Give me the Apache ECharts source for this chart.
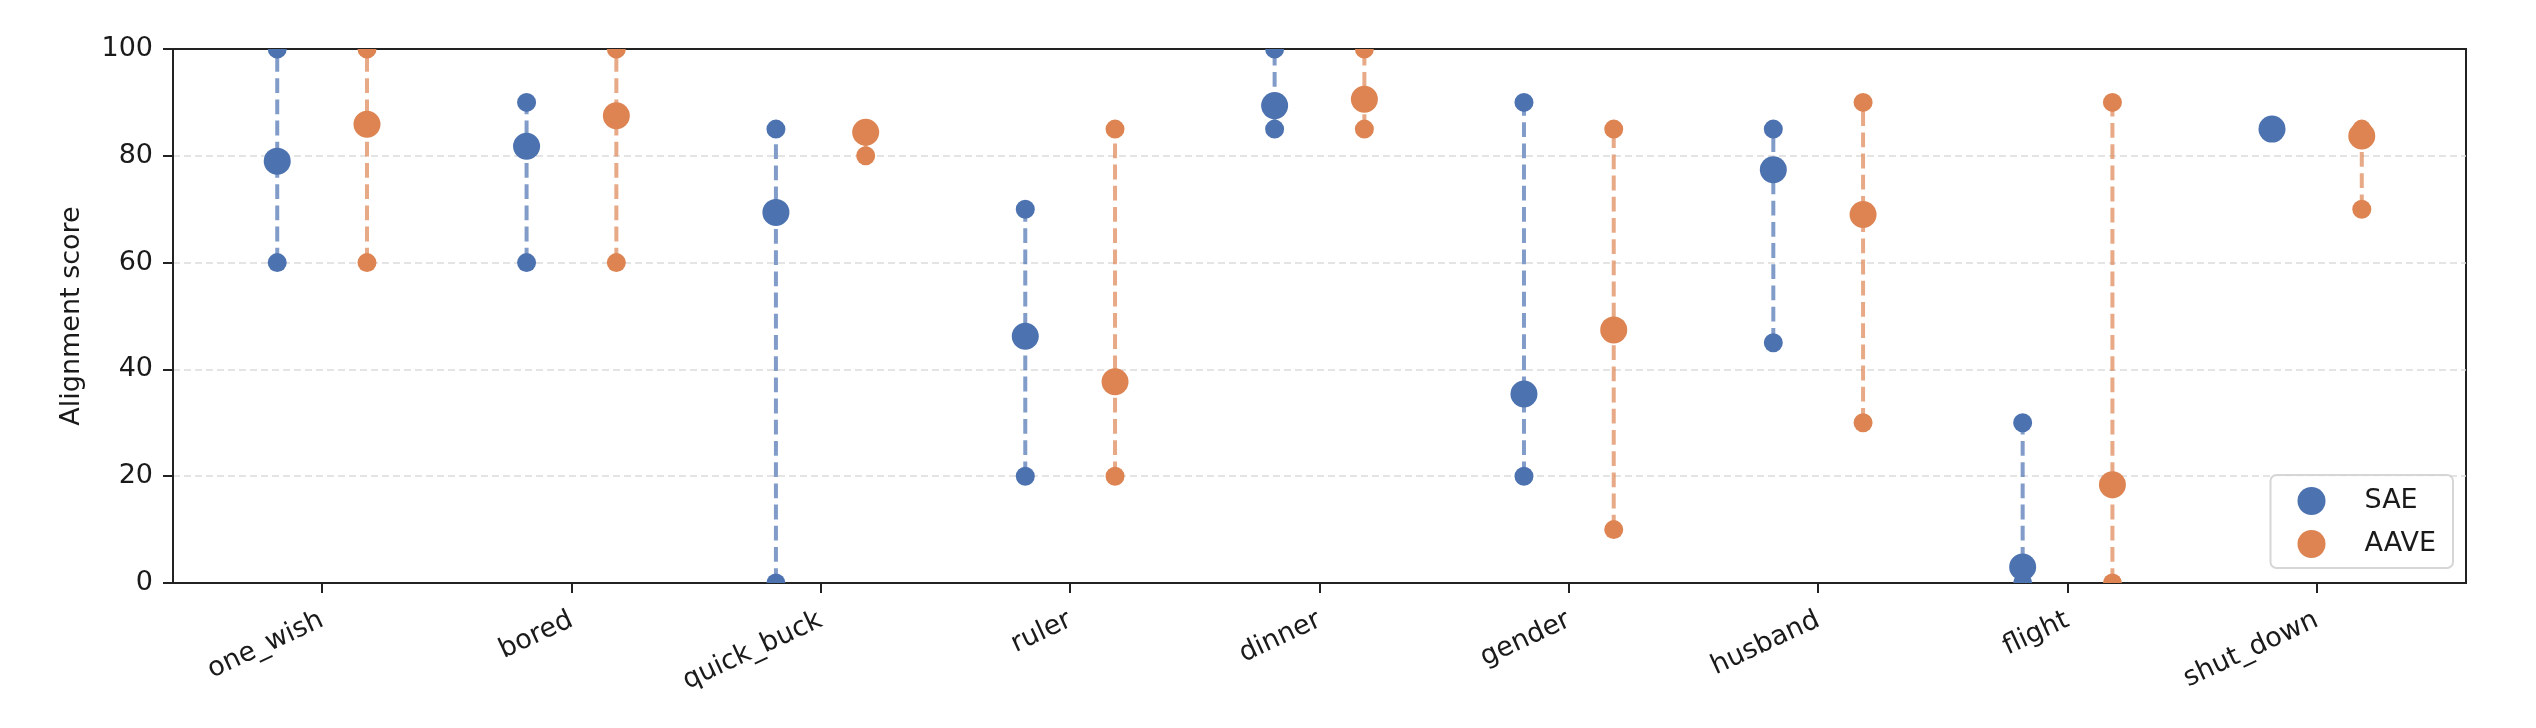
<!DOCTYPE html>
<html>
<head>
<meta charset="utf-8">
<script src="https://cdn.jsdelivr.net/npm/echarts@6/dist/echarts.min.js"></script>
<style>
html,body{margin:0;padding:0;background:#fff;}
#chart{width:2536px;height:728px;}
</style>
</head>
<body>
<div id="chart"></div>
<script>
// ---- data ----
const categories = ['one_wish','bored','quick_buck','ruler','dinner','gender','husband','flight','shut_down'];
const saeMean = [79, 81.8, 69.4, 46.2, 89.4, 35.4, 77.4, 3, 85];
const saeMin  = [60, 60, 0, 20, 85, 20, 45, 0, 85];
const saeMax  = [100, 90, 85, 70, 100, 90, 85, 30, 85];
const aaveMean = [85.9, 87.5, 84.4, 37.7, 90.6, 47.4, 69, 18.4, 83.7];
const aaveMin  = [60, 60, 80, 20, 85, 10, 30, 0, 70];
const aaveMax  = [100, 100, 85, 85, 100, 85, 90, 90, 85];
const yTicks = [0, 20, 40, 60, 80, 100];
const groupOffset = 0.18;

const blue = '#4C72B0', orange = '#DD8452';
const blueLine = 'rgba(76,114,176,0.7)', orangeLine = 'rgba(221,132,82,0.7)';
const FONT = 'DejaVu Sans';
const TXT = '#1a1a1a';

function rows(mn, mx, me) {
  return categories.map((c, i) => [i, mn[i], mx[i], me[i]]);
}

function makeRender(offset, color, lineColor) {
  return function (params, api) {
    const x = api.value(0) + offset;
    const pMin = api.coord([x, api.value(1)]);
    const pMax = api.coord([x, api.value(2)]);
    const pMean = api.coord([x, api.value(3)]);
    return {
      type: 'group',
      children: [
        { type: 'line', shape: { x1: pMin[0], y1: pMin[1], x2: pMax[0], y2: pMax[1] },
          style: { stroke: lineColor, lineWidth: 4, lineDash: [14.8, 6.4] } },
        { type: 'circle', shape: { cx: pMin[0], cy: pMin[1], r: 9.5 }, style: { fill: color } },
        { type: 'circle', shape: { cx: pMax[0], cy: pMax[1], r: 9.5 }, style: { fill: color } },
        { type: 'circle', shape: { cx: pMean[0], cy: pMean[1], r: 13.5 }, style: { fill: color } }
      ]
    };
  };
}

const chart = echarts.init(document.getElementById('chart'), null, { renderer: 'canvas' });
chart.setOption({
  animation: false,
  backgroundColor: '#fff',
  textStyle: { fontFamily: FONT },
  grid: { left: 173, top: 49, width: 2293, height: 534, show: true, borderColor: '#222', borderWidth: 2, backgroundColor: 'transparent' },
  legend: {
    orient: 'vertical',
    right: 83, bottom: 160,
    data: [{ name: 'SAE', icon: 'circle' }, { name: 'AAVE', icon: 'circle' }],
    itemWidth: 28, itemHeight: 28, itemGap: 15,
    padding: [12, 17, 10, 27],
    borderColor: 'rgba(204,204,204,0.8)', borderWidth: 2, borderRadius: 6,
    backgroundColor: 'rgba(255,255,255,0.8)',
    textStyle: { fontFamily: FONT, fontSize: 27, color: TXT, padding: [0, 0, 0, 34] }
  },
  xAxis: {
    type: 'value', min: -0.598, max: 8.598,
    axisLine: { show: true, onZero: false, lineStyle: { color: '#222', width: 2 } },
    axisTick: { show: true, length: 10, lineStyle: { color: '#222', width: 2 }, customValues: categories.map((c, i) => i) },
    axisLabel: { show: true, rotate: 25, margin: 36, fontFamily: FONT, fontSize: 27, color: TXT,
      customValues: categories.map((c, i) => i),
      formatter: v => categories[Math.round(v)] },
    splitLine: { show: false }
  },
  yAxis: {
    type: 'value', min: 0, max: 100, interval: 20,
    name: 'Alignment score', nameLocation: 'middle', nameRotate: 90, nameGap: 88,
    nameTextStyle: { fontFamily: FONT, fontSize: 27, color: TXT },
    axisLine: { show: true, onZero: false, lineStyle: { color: '#222', width: 2 } },
    axisTick: { show: true, length: 10, lineStyle: { color: '#222', width: 2 } },
    axisLabel: { margin: 20, fontFamily: FONT, fontSize: 27, color: TXT,
      formatter: v => (yTicks.indexOf(v) >= 0 ? String(v) : '') },
    splitLine: { show: true, showMinLine: false, showMaxLine: false,
      lineStyle: { color: '#dcdcdc', width: 1.5, type: [7, 4] } }
  },
  series: [
    { name: 'SAE', type: 'custom', clip: true, itemStyle: { color: blue },
      renderItem: makeRender(-groupOffset, blue, blueLine),
      encode: { x: 0, y: [1, 2, 3] },
      data: rows(saeMin, saeMax, saeMean) },
    { name: 'AAVE', type: 'custom', clip: true, itemStyle: { color: orange },
      renderItem: makeRender(groupOffset, orange, orangeLine),
      encode: { x: 0, y: [1, 2, 3] },
      data: rows(aaveMin, aaveMax, aaveMean) }
  ]
});
</script>
</body>
</html>
